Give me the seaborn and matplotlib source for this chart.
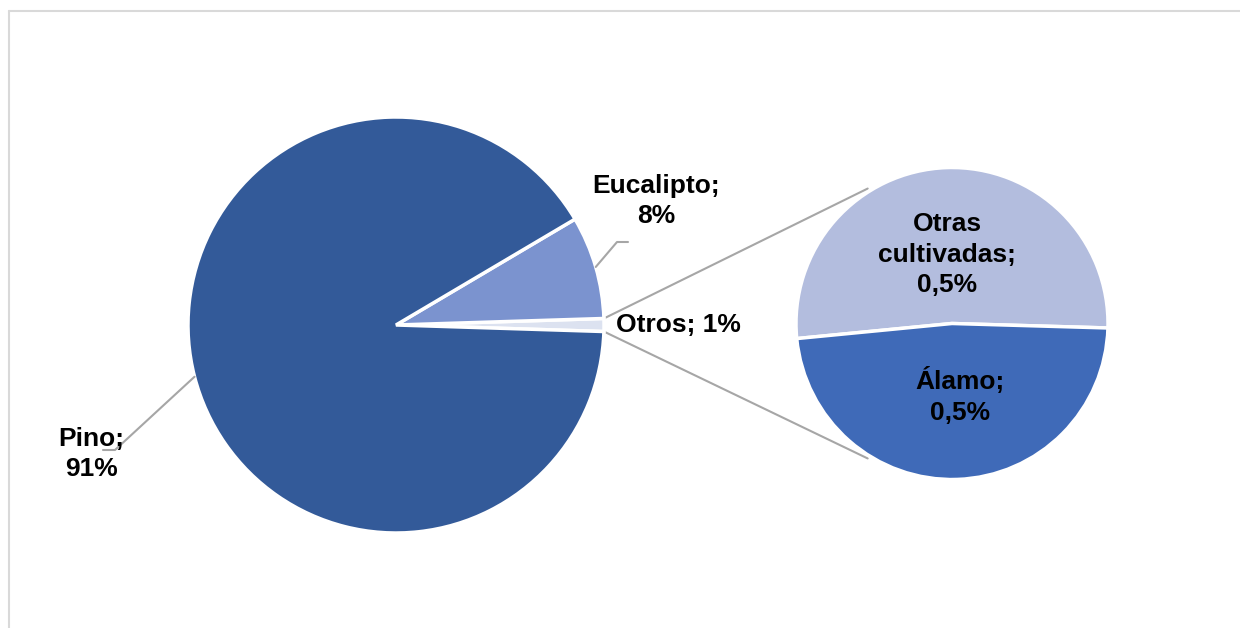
import numpy as np
import matplotlib.pyplot as plt
import seaborn as sns

# ------------------------------
# Datos
# ------------------------------
main_labels = ["Otros", "Eucalipto", "Pino"]
main_values = [1, 8, 91]
main_text = ["Otros; 1%", "Eucalipto;\n8%", "Pino;\n91%"]

sub_labels = ["Otras cultivadas", "Álamo"]
sub_values = [0.52, 0.48]
sub_text = ["Otras\ncultivadas;\n0,5%", "Álamo;\n0,5%"]

main_colors = ["#DCE2F0", "#7B93CF", "#335A99"]
sub_colors = ["#B3BDDE", "#3F6AB8"]

# ------------------------------
# Estilo
# ------------------------------
sns.set_theme(style="white")
plt.rcParams["font.family"] = ["Liberation Sans", "DejaVu Sans"]

W, H = 1240, 628
fig = plt.figure(figsize=(W / 100, H / 100), dpi=100)
ax = fig.add_axes([0, 0, 1, 1])

c1, r1 = (396, 303), 208
c2, r2 = (952, 304.5), 156

# angulo inicial: "Otros" centrado en 0 grados
start1 = -main_values[0] / sum(main_values) * 360 / 2
wedges1, _ = ax.pie(main_values, colors=main_colors, startangle=start1,
                    center=c1, radius=r1, counterclock=True,
                    wedgeprops=dict(edgecolor="white", linewidth=2.5),
                    frame=True)
wedges2, _ = ax.pie(sub_values, colors=sub_colors, startangle=-1.65,
                    center=c2, radius=r2, counterclock=True,
                    wedgeprops=dict(edgecolor="white", linewidth=2.5),
                    frame=True)
ax.set_xlim(0, W)
ax.set_ylim(0, H)
ax.set_aspect("equal")
ax.axis("off")

grey = "#A6A6A6"

# lineas de conexion entre "Otros" y la segunda torta
w_o = wedges1[0]
for a1, a2 in [(w_o.theta2, 122), (w_o.theta1, 238)]:
    p1 = (c1[0] + r1 * np.cos(np.radians(a1)), c1[1] + r1 * np.sin(np.radians(a1)))
    p2 = (c2[0] + 1.02 * r2 * np.cos(np.radians(a2)), c2[1] + 1.02 * r2 * np.sin(np.radians(a2)))
    ax.plot([p1[0], p2[0]], [p1[1], p2[1]], color=grey, lw=1.5, zorder=0)

# lineas guia de etiquetas
def leader(wedge, pts):
    a = np.radians((wedge.theta1 + wedge.theta2) / 2)
    p0 = (c1[0] + r1 * np.cos(a), c1[1] + r1 * np.sin(a))
    xs = [p0[0]] + [p[0] for p in pts]
    ys = [p0[1]] + [p[1] for p in pts]
    ax.plot(xs, ys, color=grey, lw=1.5)

leader(wedges1[1], [(617, 386), (628, 386)])
leader(wedges1[2], [(115, 178), (103, 178)])

txt = dict(fontsize=19, fontweight="bold", color="black", linespacing=1.35, va="center")
ax.text(616, 303, main_text[0], ha="left", **txt)
ax.text(656, 427, main_text[1], ha="center", **txt)
ax.text(91, 174, main_text[2], ha="center", **txt)
ax.text(947, 373.5, sub_text[0], ha="center", **txt)
ax.text(960, 232, sub_text[1], ha="center", **txt)

# borde del grafico (solo arriba e izquierda visibles)
ax.plot([9, W], [H - 11, H - 11], color="#D9D9D9", lw=1.5)
ax.plot([9, 9], [0, H - 11], color="#D9D9D9", lw=1.5)

plt.savefig("out.png", dpi=100)
plt.close()
